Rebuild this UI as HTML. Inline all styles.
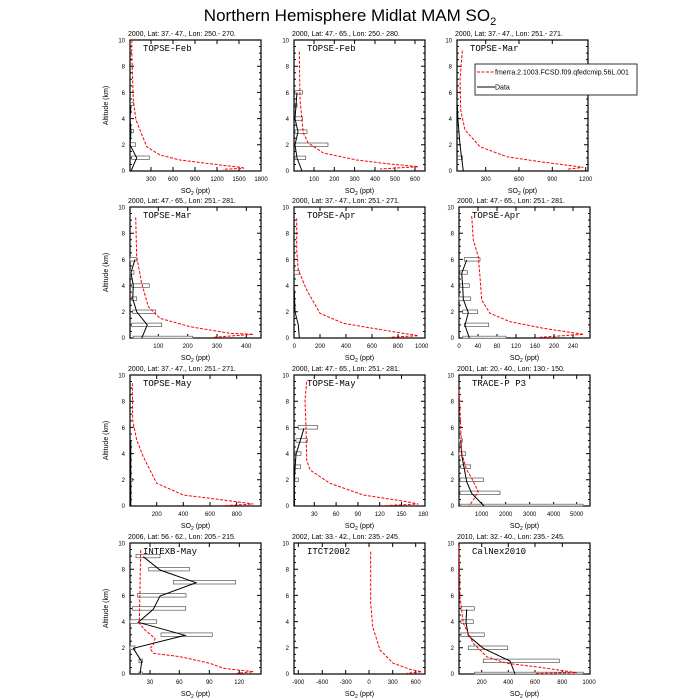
<!DOCTYPE html>
<html><head><meta charset="utf-8"><style>
html,body{margin:0;padding:0;background:#fff}
svg{display:block}
text{font-family:"Liberation Sans",sans-serif;fill:#000}
.t{font-size:7px}
.k{font-size:6px;text-anchor:end}
.x{font-size:6px;text-anchor:middle}
.s{font-size:7px;text-anchor:middle}
.l{font-family:"Liberation Mono",monospace;font-size:9px}
.r{fill:none;stroke:#f00;stroke-width:1;stroke-dasharray:3,1.5}
.b{fill:none;stroke:#000;stroke-width:1}
.bar{fill:#fff;stroke:#555;stroke-width:0.7}
.fr{fill:none;stroke:#000;stroke-width:1.2}
.tk{stroke:#000;stroke-width:1}
</style></head><body>
<svg width="700" height="700" viewBox="0 0 700 700" xmlns="http://www.w3.org/2000/svg">
<defs>
<g id="frame">
<rect class="fr" x="0" y="0" width="131" height="131"/>
<path class="tk" d="M0 0h4M0 26.2h4M0 52.4h4M0 78.6h4M0 104.8h4M0 131h4M131 0h-4M131 26.2h-4M131 52.4h-4M131 78.6h-4M131 104.8h-4M131 131h-4"/>
<path class="tk" stroke-width="0.6" d="M0 6.55h2M0 13.1h2M0 19.65h2M0 32.75h2M0 39.3h2M0 45.85h2M0 58.95h2M0 65.5h2M0 72.05h2M0 85.15h2M0 91.7h2M0 98.25h2M0 111.35h2M0 117.9h2M0 124.45h2M131 6.55h-2M131 13.1h-2M131 19.65h-2M131 32.75h-2M131 39.3h-2M131 45.85h-2M131 58.95h-2M131 65.5h-2M131 72.05h-2M131 85.15h-2M131 91.7h-2M131 98.25h-2M131 111.35h-2M131 117.9h-2M131 124.45h-2"/>
<text class="k" x="-5" y="133">0</text><text class="k" x="-5" y="107">2</text><text class="k" x="-5" y="81">4</text><text class="k" x="-5" y="55">6</text><text class="k" x="-5" y="28.5">8</text><text class="k" x="-5" y="2.5">10</text>
<text class="s" x="65.5" y="153">SO<tspan font-size="5" dy="2">2</tspan><tspan dy="-2"> (ppt)</tspan></text>
</g>
</defs>

<text x="350" y="21" style="font-size:17px;text-anchor:middle">Northern Hemisphere Midlat MAM SO<tspan font-size="11" dy="4">2</tspan></text>

<!-- P1 -->
<g transform="translate(130,40)">
<use href="#frame"/>
<text class="t" x="-2" y="-4">2000, Lat: 37.- 47., Lon: 250.- 270.</text>
<text class="l" x="13" y="11">TOPSE-Feb</text>
<text class="s" transform="translate(-22,65.5) rotate(-90)">Altitude (km)</text>
<path class="tk" d="M21 131v-4M43 131v-4M65 131v-4M87 131v-4M109 131v-4M21 0v4M43 0v4M65 0v4M87 0v4M109 0v4"/>
<text class="x" x="21" y="141">300</text><text class="x" x="43" y="141">600</text><text class="x" x="65" y="141">900</text><text class="x" x="87" y="141">1200</text><text class="x" x="109" y="141">1500</text><text class="x" x="131" y="141">1800</text>
<rect class="bar" x="0.5" y="62.5" width="3" height="3"/><rect class="bar" x="0.5" y="89.5" width="3" height="3"/><rect class="bar" x="0.5" y="102.8" width="5" height="3.5"/><rect class="bar" x="1.7" y="116" width="17.6" height="3.5"/>
<path class="b" d="M1 65.5L0 78.6L1 91.7L0 104.8L6.7 117.9L1 131"/>
<path class="r" d="M2 0L1.7 10L3.3 60L6 80L10 90L16.7 106.7L30 115L50 120L90 125L113 127.5L113.3 128.3L93 129.3"/>
</g>

<!-- P2 -->
<g transform="translate(294,40)">
<use href="#frame"/>
<text class="t" x="-2" y="-4">2000, Lat: 47.- 65., Lon: 250.- 280.</text>
<text class="l" x="13" y="11">TOPSE-Feb</text>
<path class="tk" d="M20 131v-4M40.3 131v-4M60.6 131v-4M81 131v-4M101 131v-4M121 131v-4M20 0v4M40.3 0v4M60.6 0v4M81 0v4M101 0v4M121 0v4"/>
<text class="x" x="20" y="141">100</text><text class="x" x="40.3" y="141">200</text><text class="x" x="60.6" y="141">300</text><text class="x" x="81" y="141">400</text><text class="x" x="101" y="141">500</text><text class="x" x="121" y="141">600</text>
<rect class="bar" x="1" y="50.6" width="7.3" height="3.5"/><rect class="bar" x="1" y="63.7" width="2" height="3.5"/><rect class="bar" x="1" y="76.8" width="7.5" height="3.5"/><rect class="bar" x="1" y="89.9" width="12" height="3.5"/><rect class="bar" x="1" y="103" width="33" height="3.5"/><rect class="bar" x="1" y="116.1" width="10.7" height="3.5"/>
<path class="b" d="M3 52.4L2 65.5L1 78.6L4 91.7L1 104.8L3 117.9L8 131"/>
<path class="r" d="M5.3 11.7L6 60L9.3 93L14.3 103L29.3 113L62.7 120L96 124L124.3 126.7L86 129"/>
</g>

<!-- P3 -->
<g transform="translate(457,40)">
<use href="#frame"/>
<text class="t" x="-2" y="-4">2000, Lat: 37.- 47., Lon: 251.- 271.</text>
<text class="l" x="13" y="11">TOPSE-Mar</text>
<path class="tk" d="M28.7 131v-4M62 131v-4M95.3 131v-4M128.7 131v-4M28.7 0v4M62 0v4M95.3 0v4"/>
<text class="x" x="28.7" y="141">300</text><text class="x" x="62" y="141">600</text><text class="x" x="95.3" y="141">900</text><text class="x" x="128.7" y="141">1200</text>
<rect class="bar" x="0.5" y="116" width="5" height="3.5"/>
<path class="b" d="M0.3 65L1 80L3 105L6.3 131"/>
<path class="r" d="M5.3 10.7L3 40L3.7 70L8 90L23 106.7L49.7 116.7L83 121.7L126.3 127.3L109.7 129.3"/>
</g>
<!-- legend -->
<rect x="475" y="64" width="162" height="31" fill="#fff" stroke="#000" stroke-width="0.8"/>
<line x1="477" y1="72" x2="495" y2="72" stroke="#f00" stroke-dasharray="3,1.5"/>
<text class="t" x="495" y="74.5">fmerra.2.1003.FCSD.f09.qfedcmip.56L.001</text>
<line x1="477" y1="87" x2="495" y2="87" stroke="#000"/>
<text class="t" x="495" y="89.5">Data</text>

<!-- P4 -->
<g transform="translate(130,207)">
<use href="#frame"/>
<text class="t" x="-2" y="-4">2000, Lat: 47.- 65., Lon: 251.- 281.</text>
<text class="l" x="13" y="11">TOPSE-Mar</text>
<text class="s" transform="translate(-22,65.5) rotate(-90)">Altitude (km)</text>
<path class="tk" d="M28.3 131v-4M57.7 131v-4M87 131v-4M116.3 131v-4M28.3 0v4M57.7 0v4M87 0v4M116.3 0v4"/>
<text class="x" x="28.3" y="141">100</text><text class="x" x="57.7" y="141">200</text><text class="x" x="87" y="141">300</text><text class="x" x="116.3" y="141">400</text>
<rect class="bar" x="0" y="50.6" width="6.7" height="3.5"/><rect class="bar" x="0" y="63.7" width="4" height="3.5"/><rect class="bar" x="1.7" y="76.8" width="17.6" height="3.5"/><rect class="bar" x="1.7" y="89.9" width="5" height="3.5"/><rect class="bar" x="2.7" y="103" width="23" height="3.5"/><rect class="bar" x="1.7" y="116.1" width="30" height="3.5"/><rect class="bar" x="3.3" y="129.2" width="59.4" height="2"/>
<path class="b" d="M5 52.4L1 65.5L3.3 78.6L2.7 91.7L6.7 104.8L17.3 117.9L11.7 131"/>
<path class="r" d="M5.7 10.3L6.7 49.7L11.7 76.3L18.3 99.7L30 111.3L60 119.7L100 126.3L123.3 127.3L83.3 130.3"/>
</g>

<!-- P5 -->
<g transform="translate(294,207)">
<use href="#frame"/>
<text class="t" x="-2" y="-4">2000, Lat: 37.- 47., Lon: 251.- 271.</text>
<text class="l" x="13" y="11">TOPSE-Apr</text>
<path class="tk" d="M26 131v-4M52 131v-4M78 131v-4M104 131v-4M26 0v4M52 0v4M78 0v4M104 0v4"/>
<text class="x" x="0.3" y="141">0</text><text class="x" x="26" y="141">200</text><text class="x" x="52" y="141">400</text><text class="x" x="78" y="141">600</text><text class="x" x="104" y="141">800</text><text class="x" x="127.7" y="141">1000</text>
<rect class="bar" x="0.3" y="63.7" width="5" height="3.5"/>
<path class="b" d="M0.3 83L1 104.7L4.3 118L5.3 131"/>
<path class="r" d="M2.7 11.3L2.7 43L4.3 63L12.7 83L26 106.3L49.3 116.3L99.3 124.7L124.3 128.7L96 130.3"/>
</g>

<!-- P6 -->
<g transform="translate(459,207)">
<use href="#frame"/>
<text class="t" x="-2" y="-4">2000, Lat: 47.- 65., Lon: 251.- 281.</text>
<text class="l" x="13" y="11">TOPSE-Apr</text>
<path class="tk" d="M19 131v-4M38 131v-4M57 131v-4M76 131v-4M95 131v-4M114 131v-4M19 0v4M38 0v4M57 0v4M76 0v4M95 0v4M114 0v4"/>
<text class="x" x="0" y="141">0</text><text class="x" x="19" y="141">40</text><text class="x" x="38" y="141">80</text><text class="x" x="57" y="141">120</text><text class="x" x="76" y="141">160</text><text class="x" x="95" y="141">200</text><text class="x" x="114" y="141">240</text>
<rect class="bar" x="5.3" y="50.6" width="15.7" height="3.5"/><rect class="bar" x="1" y="63.7" width="7.3" height="3.5"/><rect class="bar" x="1" y="76.8" width="9.3" height="3.5"/><rect class="bar" x="0" y="89.9" width="11.7" height="3.5"/><rect class="bar" x="3.7" y="103" width="15" height="3.5"/><rect class="bar" x="5.3" y="116.1" width="24.4" height="3.5"/><rect class="bar" x="3.7" y="129.2" width="43.3" height="2"/>
<path class="b" d="M7.7 53L2.7 66.3L3.7 79.7L4.3 92.3L9.3 105.7L6 118.3L10.3 131"/>
<path class="r" d="M12.7 9L14.3 33L19.3 49.7L21 69.7L22.7 93L31 106.3L51 114.7L84.3 121.3L124.7 127.3L81 130.3"/>
</g>

<!-- P7 -->
<g transform="translate(130,375)">
<use href="#frame"/>
<text class="t" x="-2" y="-4">2000, Lat: 37.- 47., Lon: 251.- 271.</text>
<text class="l" x="13" y="11">TOPSE-May</text>
<text class="s" transform="translate(-22,65.5) rotate(-90)">Altitude (km)</text>
<path class="tk" d="M26.7 131v-4M53.3 131v-4M80 131v-4M106.7 131v-4M26.7 0v4M53.3 0v4M80 0v4M106.7 0v4"/>
<text class="x" x="26.7" y="141">200</text><text class="x" x="53.3" y="141">400</text><text class="x" x="80" y="141">600</text><text class="x" x="106.7" y="141">800</text>
<rect class="bar" x="0.3" y="103.3" width="2" height="3"/>
<path class="b" d="M0.8 65.5L0.8 131"/>
<path class="r" d="M2.3 8.3L2.7 45L6.7 65L13.3 81.7L26.7 108.3L53.3 120L93.3 125L123.3 129L93.3 130.7"/>
</g>

<!-- P8 -->
<g transform="translate(294,375)">
<use href="#frame"/>
<text class="t" x="-2" y="-4">2000, Lat: 47.- 65., Lon: 251.- 281.</text>
<text class="l" x="13" y="11">TOPSE-May</text>
<path class="tk" d="M20.3 131v-4M42.1 131v-4M63.9 131v-4M85.7 131v-4M107.5 131v-4M20.3 0v4M42.1 0v4M63.9 0v4M85.7 0v4M107.5 0v4"/>
<text class="x" x="20.3" y="141">30</text><text class="x" x="42.1" y="141">60</text><text class="x" x="63.9" y="141">90</text><text class="x" x="85.7" y="141">120</text><text class="x" x="107.5" y="141">150</text><text class="x" x="129.3" y="141">180</text>
<rect class="bar" x="4.3" y="50.6" width="19.4" height="3.5"/><rect class="bar" x="2" y="63.7" width="11.3" height="3.5"/><rect class="bar" x="1" y="76.8" width="6" height="3.5"/><rect class="bar" x="1" y="89.9" width="5.7" height="3.5"/><rect class="bar" x="1" y="103" width="3.3" height="3.5"/>
<path class="b" d="M10 53.3L2 79.3L0.3 105L0.5 131"/>
<path class="r" d="M12.7 6.7L11 25L12 51.7L12.7 85L16 95L36 108.3L69.3 120L112.7 126.7L124.3 129L89.3 130.7"/>
</g>

<!-- P9 -->
<g transform="translate(459,375)">
<use href="#frame"/>
<text class="t" x="-2" y="-4">2001, Lat: 20.- 40., Lon: 130.- 150.</text>
<text class="l" x="13" y="11">TRACE-P P3</text>
<path class="tk" d="M22.7 131v-4M46.7 131v-4M70.7 131v-4M94.7 131v-4M117.7 131v-4M22.7 0v4M46.7 0v4M70.7 0v4M94.7 0v4M117.7 0v4"/>
<text class="x" x="22.7" y="141">1000</text><text class="x" x="46.7" y="141">2000</text><text class="x" x="70.7" y="141">3000</text><text class="x" x="94.7" y="141">4000</text><text class="x" x="117.7" y="141">5000</text>
<rect class="bar" x="0" y="63.7" width="3.3" height="3.5"/><rect class="bar" x="0" y="76.8" width="6.7" height="3.5"/><rect class="bar" x="1.7" y="89.9" width="10" height="3.5"/><rect class="bar" x="1" y="103" width="23.3" height="3.5"/><rect class="bar" x="1" y="116.1" width="40" height="3.5"/><rect class="bar" x="1" y="129.2" width="123" height="1.8"/>
<path class="b" d="M1.7 65L2.7 80L7.7 106.7L12.7 118.3L25 131"/>
<path class="r" d="M0 15L1.7 51.7L2.7 78.3L7.7 95L12.7 103.3L19.3 116.7L14.3 125L10.3 130.7"/>
</g>

<!-- P10 -->
<g transform="translate(130,543)">
<use href="#frame"/>
<text class="t" x="-2" y="-4">2006, Lat: 56.- 62., Lon: 205.- 215.</text>
<text class="l" x="13" y="11">INTEXB-May</text>
<text class="s" transform="translate(-22,65.5) rotate(-90)">Altitude (km)</text>
<path class="tk" d="M20 131v-4M49.3 131v-4M79.3 131v-4M109.3 131v-4M20 0v4M49.3 0v4M79.3 0v4M109.3 0v4"/>
<text class="x" x="20" y="141">30</text><text class="x" x="49.3" y="141">60</text><text class="x" x="79.3" y="141">90</text><text class="x" x="109.3" y="141">120</text>
<rect class="bar" x="6" y="11.3" width="24" height="3.5"/><rect class="bar" x="18.7" y="24.4" width="40.6" height="3.5"/><rect class="bar" x="43.3" y="37.5" width="62.4" height="3.5"/><rect class="bar" x="7.3" y="50.6" width="48.7" height="3.5"/><rect class="bar" x="2.3" y="63.7" width="53.4" height="3.5"/><rect class="bar" x="0" y="76.8" width="26.7" height="3.5"/><rect class="bar" x="31" y="89.9" width="51.3" height="3.5"/><rect class="bar" x="0" y="103" width="5" height="3.5"/><rect class="bar" x="9" y="116.1" width="3.5" height="3.5"/><rect class="bar" x="9" y="129" width="3.5" height="2"/>
<path class="b" d="M13.3 13.7L30 27L66 39.7L30 53L23.3 66.3L8.3 79.3L55 92.3L3.3 105.3L11.7 118.7L10 131"/>
<path class="r" d="M10.7 7L10 43.7L9.3 80.3L15 87L25 95.3L23.3 102L20 105.3L23.3 110.3L50 113.7L80 120.3L93.3 125.3L123.3 128.7L106.7 130.3"/>
</g>

<!-- P11 -->
<g transform="translate(294,543)">
<use href="#frame"/>
<text class="t" x="-2" y="-4">2002, Lat: 33.- 42., Lon: 235.- 245.</text>
<text class="l" x="13" y="11">ITCT2002</text>
<path class="tk" d="M4.3 131v-4M28.3 131v-4M51.7 131v-4M75 131v-4M98.7 131v-4M121.7 131v-4M4.3 0v4M28.3 0v4M51.7 0v4M75 0v4M98.7 0v4M121.7 0v4"/>
<text class="x" x="4.3" y="141">-900</text><text class="x" x="28.3" y="141">-600</text><text class="x" x="51.7" y="141">-300</text><text class="x" x="75" y="141">0</text><text class="x" x="98.7" y="141">300</text><text class="x" x="121.7" y="141">600</text>
<path class="r" d="M76.7 8.7L76.7 60.3L78.7 83.7L86 107L99.3 120.3L116 126.3L127.7 128.7L112.7 130.3"/>
</g>

<!-- P12 -->
<g transform="translate(459,543)">
<use href="#frame"/>
<text class="t" x="-2" y="-4">2010, Lat: 32.- 40., Lon: 235.- 245.</text>
<text class="l" x="13" y="11">CalNex2010</text>
<path class="tk" d="M22.7 131v-4M49.3 131v-4M76 131v-4M103.3 131v-4M22.7 0v4M49.3 0v4M76 0v4M103.3 0v4"/>
<text class="x" x="22.7" y="141">200</text><text class="x" x="49.3" y="141">400</text><text class="x" x="76" y="141">600</text><text class="x" x="103.3" y="141">800</text><text class="x" x="130" y="141">1000</text>
<rect class="bar" x="2" y="63.7" width="13.3" height="3.5"/><rect class="bar" x="2" y="76.8" width="12.3" height="3.5"/><rect class="bar" x="2" y="89.9" width="23.3" height="3.5"/><rect class="bar" x="9.3" y="103" width="39.4" height="3.5"/><rect class="bar" x="24.3" y="116.1" width="76" height="3.5"/><rect class="bar" x="15.3" y="129.2" width="109" height="1.8"/>
<path class="b" d="M7.7 66.3L7 79.3L9.3 92.7L24.3 105.3L51 118L56 131"/>
<path class="r" d="M0 3.7L1 53.7L4.3 80.3L14.3 100.3L27.7 113.7L47.7 120.3L81 124.3L117.7 129.7L76 130.5"/>
</g>
</svg>
</body></html>
